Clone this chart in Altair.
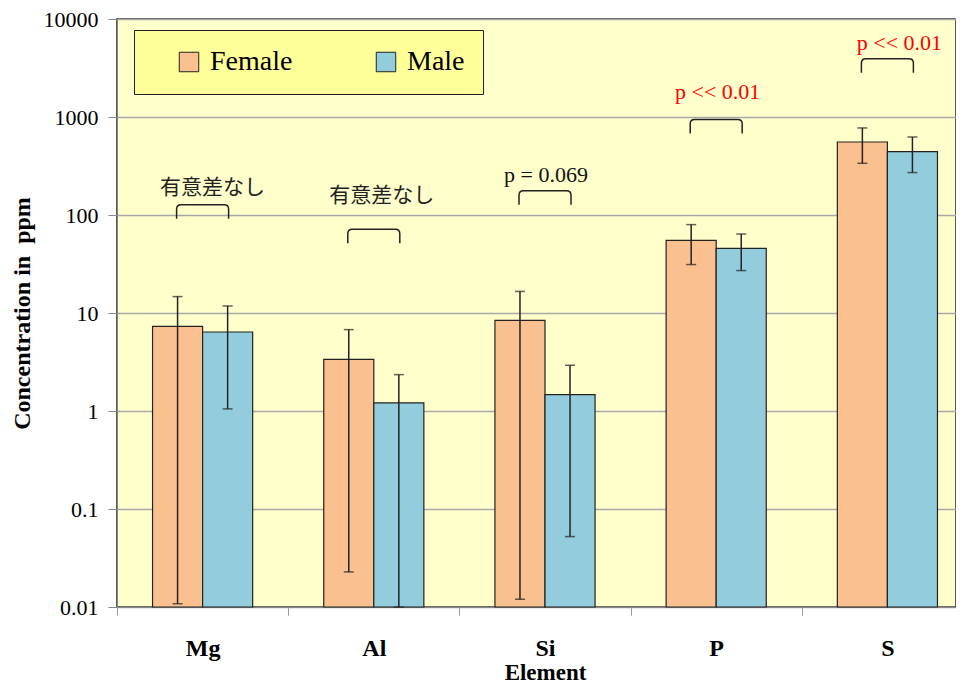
import altair as alt
import pandas as pd

# ---------------- data ----------------
elements = ["Mg", "Al", "Si", "P", "S"]
sexes = ["Female", "Male"]

female_mean = [7.3, 3.37, 8.4, 55.0, 556.0]
female_lo = [0.0108, 0.0228, 0.012, 31.2, 337.0]
female_hi = [14.7, 6.77, 16.6, 79.8, 773.0]

male_mean = [6.4, 1.21, 1.47, 45.7, 443.0]
male_lo = [1.05, 0.01, 0.0523, 27.1, 271.0]
male_hi = [11.8, 2.35, 2.93, 64.0, 625.0]

ann_labels = ["有意差なし", "有意差なし", "p = 0.069", "p << 0.01", "p << 0.01"]
ann_text_level = [190.0, 157.0, 254.0, 1800.0, 5650.0]
ann_bracket_level = [108.0, 60.6, 150.0, 798.0, 3327.0]

y_ticks = [0.01, 0.1, 1, 10, 100, 1000, 10000]
y_floor = 0.01

# ---------------- tables ----------------
rows = []
for i, e in enumerate(elements):
    rows.append(dict(element=e, sex="Female", mean=female_mean[i], lo=female_lo[i], hi=female_hi[i]))
    rows.append(dict(element=e, sex="Male", mean=male_mean[i], lo=male_lo[i], hi=male_hi[i]))
df = pd.DataFrame(rows)

ann = pd.DataFrame(dict(element=elements, label=ann_labels,
                        text_level=ann_text_level, bracket_level=ann_bracket_level))

# ---------------- styles ----------------
SERIF = "Liberation Serif"
JP = "Noto Sans CJK JP"
text_dx = [10, 8, 1, 1.5, 12]
bracket_dx = [-3, -3, -8, 1.5, 3]
text_colors = ["#222222", "#222222", "#111111", "#ff0000", "#ff0000"]
BRACKET = "M -1 0.27 L -1 -0.1 Q -1 -0.27 -0.83 -0.27 L 0.83 -0.27 Q 1 -0.27 1 -0.1 L 1 0.27"

x_scale = alt.Scale(domain=elements, range=[0, 856], paddingInner=0, paddingOuter=0)
y_scale = alt.Scale(type="log", domain=[0.01, 10000], nice=False)

x_axis = alt.Axis(title="Element", tickBand="extent", labelAngle=0,
                  labelFont=SERIF, labelFontSize=24, labelFontWeight="bold", labelColor="black",
                  titleFont=SERIF, titleFontSize=23, titleFontWeight="bold", titleColor="black",
                  tickSize=8, tickColor="#999999", domainColor="#888888",
                  labelPadding=21, titlePadding=1, grid=False)
y_axis = alt.Axis(values=y_ticks, format="~g", title="Concentration in\u00a0 ppm",
                  titleFont=SERIF, titleFontSize=24, titleFontWeight="bold", titleColor="black",
                  labelFont=SERIF, labelFontSize=22, labelFontWeight="normal", labelColor="black",
                  tickSize=9, tickColor="#888888", domainColor="#888888",
                  grid=True, gridColor="#a8a8a8", gridWidth=1.5,
                  labelPadding=10, titlePadding=9)

x_enc = alt.X("element:N", sort=elements, scale=x_scale, axis=x_axis)
xo_enc = alt.XOffset("sex:N", sort=sexes, scale=alt.Scale(paddingInner=0, paddingOuter=0.71))


def Y(field):
    return alt.Y(field, type="quantitative", scale=y_scale, axis=y_axis)


bars = alt.Chart(df).mark_bar(stroke="#222222", strokeWidth=1.2).encode(
    x=x_enc, xOffset=xo_enc, y=Y("mean"), y2=alt.Y2(datum=y_floor),
    color=alt.Color("sex:N", sort=sexes,
                    scale=alt.Scale(domain=sexes, range=["#FAC090", "#93CDDD"]),
                    legend=alt.Legend(title=None, orient="none", legendX=17, legendY=11,
                                      direction="horizontal", fillColor="#FFFF99",
                                      strokeColor="#222222", padding=18,
                                      symbolType="square", symbolSize=380,
                                      symbolStrokeColor="#222222", symbolStrokeWidth=1,
                                      labelFont=SERIF, labelFontSize=28, labelColor="black",
                                      symbolOffset=23, labelOffset=7, columnPadding=56,
                                      gridAlign="all")),
)

err = alt.Chart(df).mark_rule(color="#222222", strokeWidth=1.5).encode(
    x=x_enc, xOffset=xo_enc, y=Y("lo"), y2="hi:Q")
cap_hi = alt.Chart(df).mark_tick(color="#222222", thickness=1.5, size=10, orient="horizontal").encode(
    x=x_enc, xOffset=xo_enc, y=Y("hi"))
cap_lo = alt.Chart(df).mark_tick(color="#222222", thickness=1.5, size=10, orient="horizontal").encode(
    x=x_enc, xOffset=xo_enc, y=Y("lo"))

layers = [bars, err, cap_hi, cap_lo]

for i, e in enumerate(elements):
    sub = alt.Chart(ann).transform_filter(alt.datum.element == e)
    layers.append(
        sub.mark_point(shape=BRACKET, size=2704, filled=False, stroke="#222222",
                       strokeWidth=1.5, opacity=1, dx=bracket_dx[i]).encode(
            x=x_enc, y=Y("bracket_level")))
    is_jp = not ann_labels[i].isascii()
    layers.append(
        sub.mark_text(font=JP if is_jp else SERIF, fontSize=21 if is_jp else 22,
                      color=text_colors[i], align="center", baseline="middle",
                      dx=text_dx[i]).encode(
            x=x_enc, y=Y("text_level"), text="label:N"))

chart = alt.layer(*layers).properties(
    width=839, height=588,
    autosize=alt.AutoSizeParams(type="none"),
    padding={"left": 109, "top": 11, "right": 0, "bottom": 81},
).configure_view(
    fill="#FFFFCC", stroke="#222222", strokeWidth=1.5
).configure_axis(
    labelFont=SERIF, titleFont=SERIF
).configure_legend(
    labelFont=SERIF
).configure_text(font=SERIF)

chart.save("out.html", embed_options={"renderer": "svg", "actions": False})
